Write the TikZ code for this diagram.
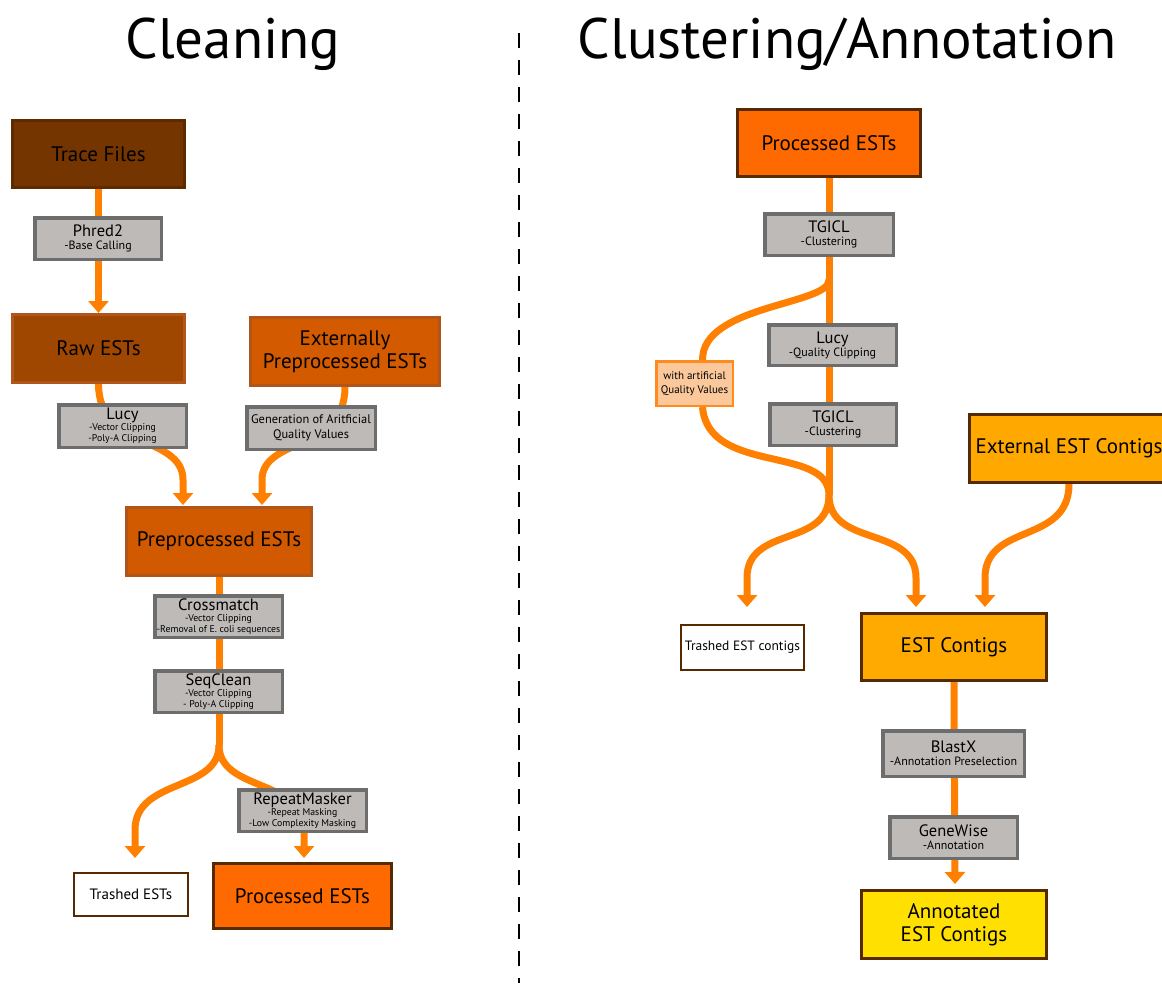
\documentclass[tikz,border=0pt]{standalone}
\usepackage{fontspec}
\setmainfont{PT Sans}
\usetikzlibrary{arrows.meta,backgrounds,calc}
\definecolor{flowc}{HTML}{FF8000}
\definecolor{toolfill}{HTML}{BDBAB8}
\definecolor{toolborder}{HTML}{6D6D6D}
\definecolor{tracefill}{HTML}{743500}
\definecolor{traceborder}{HTML}{5E2A00}
\definecolor{rawfill}{HTML}{9F4700}
\definecolor{midborder}{HTML}{B0561A}
\definecolor{extfill}{HTML}{D45A00}
\definecolor{preprofill}{HTML}{D15A00}
\definecolor{procfill}{HTML}{FF6A00}
\definecolor{darkborder}{HTML}{552A00}
\definecolor{extcfill}{HTML}{FFA800}
\definecolor{estcfill}{HTML}{FFAA00}
\definecolor{annotfill}{HTML}{FFE000}
\definecolor{qualfill}{HTML}{FAC89A}
\definecolor{qualborder}{HTML}{FF8A1E}
\newcommand{\Tname}[1]{{\fontsize{16.5}{16}\selectfont #1}}
\begin{document}
\begin{tikzpicture}[x=1pt,y=-1pt,
  bigbox/.style={draw, line width=3pt, inner sep=0pt, align=center, font=\fontsize{21}{24}\selectfont},
  toolbox/.style={draw=toolborder, fill=toolfill, line width=3.5pt, inner sep=0pt, align=center, font=\fontsize{9.8}{10.8}\selectfont},
  tooltwo/.style={toolbox, font=\fontsize{12}{13}\selectfont},
  trashbox/.style={draw=darkborder, fill=white, line width=2pt, inner sep=0pt, align=center, font=\fontsize{15}{16}\selectfont},
  flow/.style={draw=flowc, line width=7pt},
  arr/.style={flow, -{Triangle[width=20pt,length=12pt]}},
  title/.style={anchor=base, font=\fontsize{57}{60}\selectfont}
]
\useasboundingbox (0,0) rectangle (1162,983);

% titles and separator
\node[title] (t1) at (233,58) {Cleaning};
\node[title] (t2) at (847,58) {Clustering/Annotation};
\draw[line width=2pt, dash pattern=on 15pt off 12pt] (519,33) -- (519,983);

% ---------- Cleaning ----------
\node[bigbox, fill=tracefill, draw=traceborder, minimum width=172pt, minimum height=67pt] (trace) at (98.5,154) {Trace Files};
\node[tooltwo, minimum width=126.5pt, minimum height=41.5pt] (phred) at (98,238.5) {\Tname{Phred2}\\-Base Calling};
\node[bigbox, fill=rawfill, draw=midborder, minimum width=172pt, minimum height=68pt] (raw) at (98.5,348.5) {Raw ESTs};
\node[bigbox, fill=extfill, draw=midborder, minimum width=189pt, minimum height=68pt] (ext) at (345,351.5) {Externally\\[-1pt]Preprocessed ESTs};
\node[toolbox, minimum width=127.5pt, minimum height=42.5pt] (lucy) at (122.5,426) {\Tname{Lucy}\\-Vector Clipping\\-Poly-A Clipping};
\node[toolbox, minimum width=128.5pt, minimum height=42.5pt, font=\fontsize{12.4}{15.5}\selectfont] (gen) at (311,428) {Generation of Aritficial\\Quality Values};
\node[bigbox, fill=preprofill, draw=midborder, minimum width=185pt, minimum height=68pt] (prepro) at (219,541.5) {Preprocessed ESTs};
\node[toolbox, minimum width=127.5pt, minimum height=41.5pt] (cross) at (218.5,616.5) {\Tname{Crossmatch}\\-Vector Clipping\\-Removal of E. coli sequences};
\node[toolbox, minimum width=127.5pt, minimum height=41.5pt] (seq) at (218.5,691.5) {\Tname{SeqClean}\\-Vector Clipping\\- Poly-A Clipping};
\node[toolbox, minimum width=127.5pt, minimum height=41.5pt] (rep) at (302.5,810.5) {\Tname{RepeatMasker}\\-Repeat Masking\\-Low Complexity Masking};
\node[trashbox, minimum width=114pt, minimum height=43pt] (trash) at (131,894.5) {Trashed ESTs};
\node[bigbox, fill=procfill, draw=darkborder, minimum width=178pt, minimum height=65pt] (proc) at (302.5,896) {Processed ESTs};

\coordinate (split1) at (219,745);
\coordinate (trashtip) at (135,858);

% ---------- Clustering/Annotation ----------
\node[bigbox, fill=procfill, draw=darkborder, minimum width=183pt, minimum height=67pt] (proc2) at (829,143) {Processed ESTs};
\node[tooltwo, minimum width=128.5pt, minimum height=41.5pt] (tgicl1) at (829,234.5) {\Tname{TGICL}\\-Clustering};
\node[tooltwo, minimum width=127.5pt, minimum height=40.5pt] (lucy2) at (832.5,345) {\Tname{Lucy}\\-Quality Clipping};
\node[draw=qualborder, fill=qualfill, line width=2.5pt, inner sep=0pt, align=center, minimum width=76.5pt, minimum height=44.5pt, font=\fontsize{11}{14.5}\selectfont] (qual) at (694.5,383.5) {with artificial\\Quality Values};
\node[tooltwo, minimum width=126.5pt, minimum height=41.5pt] (tgicl2) at (833,424.5) {\Tname{TGICL}\\-Clustering};
\node[bigbox, fill=extcfill, draw=darkborder, minimum width=199pt, minimum height=68pt] (extc) at (1069,448.5) {External EST Contigs};
\node[trashbox, minimum width=123pt, minimum height=45pt, font=\fontsize{13.5}{15}\selectfont] (trashc) at (742.5,647.5) {Trashed EST contigs};
\node[bigbox, fill=estcfill, draw=darkborder, minimum width=185pt, minimum height=67pt] (estc) at (954,647) {EST Contigs};
\node[tooltwo, minimum width=141.5pt, minimum height=45.5pt] (blastx) at (953.5,753.5) {\Tname{BlastX}\\-Annotation Preselection};
\node[tooltwo, minimum width=127.5pt, minimum height=41.5pt] (genew) at (953.5,837.5) {\Tname{GeneWise}\\-Annotation};
\node[bigbox, fill=annotfill, draw=darkborder, minimum width=185pt, minimum height=68pt] (annot) at (954,924.5) {Annotated\\[-1pt]EST Contigs};

\coordinate (split2a) at (829,280);
\coordinate (split2) at (829,495);
\coordinate (trashctip) at (747,607);

% ---------- connectors (behind the boxes) ----------
\begin{pgfonlayer}{background}
\draw[arr] (trace.south) -- (raw.north);
\draw[arr] (raw.south) .. controls (98.5,450) and (183,435) .. (183,480) -- ($(prepro.north west)+(58,-1)$);
\draw[arr] (ext.south) .. controls (345,452) and (262,437) .. (262,480) -- ($(prepro.north west)+(137,-1)$);
\draw[flow] (prepro.south) -- (split1);
\draw[arr] (split1) .. controls (219,792) and (135,778) .. (135,830) -- (trashtip);
\draw[arr] (split1) .. controls (219,792) and (304,778) .. (304,830) -- ($(proc.north)+(1.5,-4)$);

\draw[flow] (proc2.south) -- (split2);
\draw[flow] (split2a) .. controls (829,305) and (702,305) .. ($(qual.north)+(8,0)$);
\draw[flow] ($(qual.south)+(8,0)$) .. controls (708,475) and (829,445) .. (split2);
\draw[arr] (split2) .. controls (829,548) and (747,525) .. (747,578) -- (trashctip);
\draw[arr] (split2) .. controls (829,548) and (916,525) .. (916,578) -- ($(estc.north west)+(56,-5)$);
\draw[arr] (extc.south) .. controls (1069,545) and (985,522) .. (985,578) -- ($(estc.north west)+(125,-5)$);
\draw[arr] (estc.south) -- ($(annot.north)+(1,-5)$);
\end{pgfonlayer}
\end{tikzpicture}
\end{document}
